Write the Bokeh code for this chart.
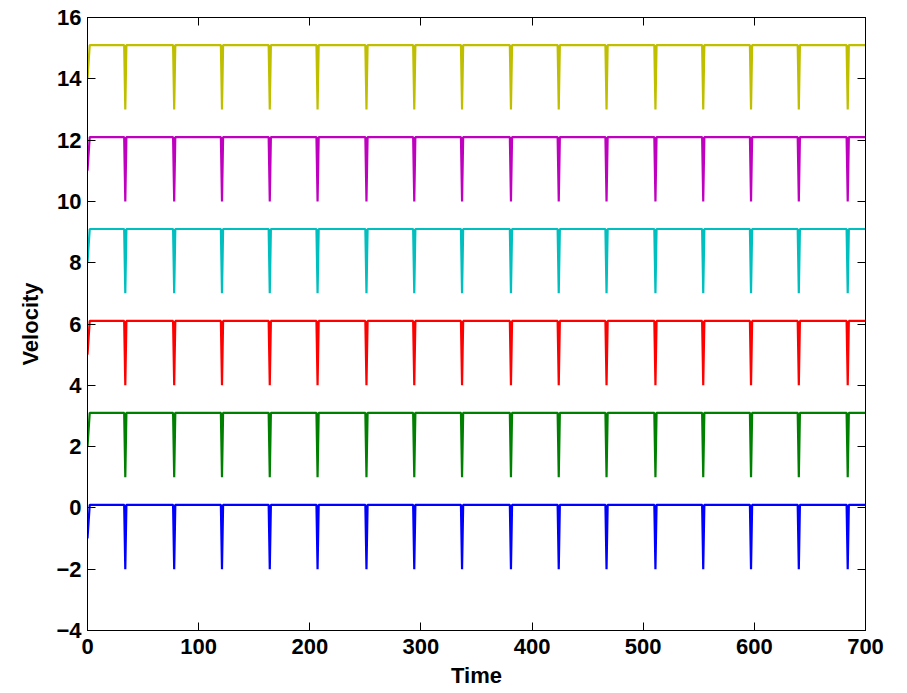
from bokeh.plotting import figure
from bokeh.models import Range1d, LinearAxis, FixedTicker, CustomJSTickFormatter
from bokeh.embed import file_html
from bokeh.resources import INLINE

# Data
dip_times = [34, 78, 121, 164, 207, 251, 294, 337, 381, 424, 467, 511, 554, 597, 640, 684]
t_end = 700
baselines = [0.1, 3.1, 6.1, 9.1, 12.1, 15.1]
start_values = [-1, 2, 5, 8, 11, 14]
dip_values = [-2, 1, 4, 7, 10, 13]
colors = ["#0000ff", "#008000", "#ff0000", "#00bfbf", "#bf00bf", "#bfbf00"]
x_ticks = [0, 100, 200, 300, 400, 500, 600, 700]
y_ticks = [-4, -2, 0, 2, 4, 6, 8, 10, 12, 14, 16]

FONT = "Liberation Sans"
FS = "22px"

p = figure(width=900, height=690, output_backend="svg", toolbar_location=None,
           x_range=Range1d(0, 700), y_range=Range1d(-4, 16),
           min_border_left=87, min_border_right=35, min_border_top=17, min_border_bottom=58)
p.xgrid.visible = False
p.ygrid.visible = False
p.outline_line_color = "black"
p.outline_line_width = 1
p.background_fill_color = "white"
p.border_fill_color = "white"

minus_fmt = CustomJSTickFormatter(code="return tick.toString().replace('-', '\u2212');")
blank_fmt = CustomJSTickFormatter(code="return '';")

for s in range(len(baselines)):
    xs = [0, 2]
    ys = [start_values[s], baselines[s]]
    for d in dip_times:
        xs += [d - 1, d, d + 1]
        ys += [baselines[s], dip_values[s], baselines[s]]
    xs.append(t_end)
    ys.append(baselines[s])
    p.line(xs, ys, line_color=colors[s], line_width=2.2)

def style(ax, labels=True):
    ax.axis_line_color = "black"
    ax.major_tick_in = 8
    ax.major_tick_out = 0
    ax.minor_tick_line_color = None
    ax.major_tick_line_color = "black"
    ax.major_label_text_font = FONT
    ax.major_label_text_font_size = FS
    ax.major_label_text_font_style = "bold"
    ax.major_label_text_color = "black"
    if labels:
        ax.axis_label_text_font = FONT
        ax.axis_label_text_font_size = FS
        ax.axis_label_text_font_style = "bold"
        ax.axis_label_text_color = "black"
    else:
        ax.formatter = blank_fmt
        ax.major_label_standoff = 0

xa = p.xaxis[0]
xa.ticker = FixedTicker(ticks=x_ticks)
xa.axis_label = "Time"
xa.major_label_standoff = 8
xa.axis_label_standoff = 6
style(xa)

ya = p.yaxis[0]
ya.ticker = FixedTicker(ticks=y_ticks)
ya.formatter = minus_fmt
ya.axis_label = "Velocity"
ya.major_label_standoff = 6
ya.axis_label_standoff = 10
style(ya)

top = LinearAxis(ticker=FixedTicker(ticks=x_ticks))
style(top, labels=False)
p.add_layout(top, "above")
right = LinearAxis(ticker=FixedTicker(ticks=y_ticks))
style(right, labels=False)
p.add_layout(right, "right")

open("out.html", "w").write(file_html(p, INLINE))
